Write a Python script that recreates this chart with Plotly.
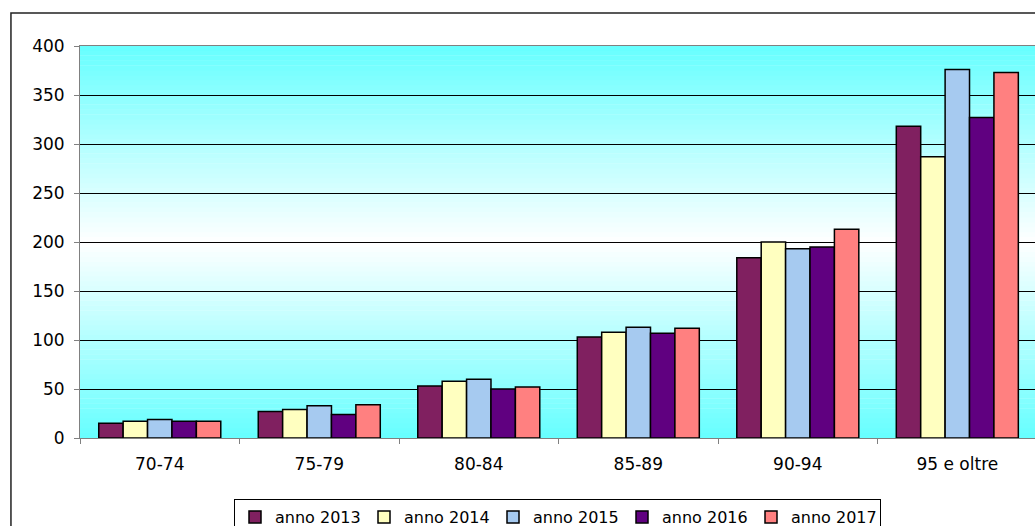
import plotly.graph_objects as go

# classi di eta' e valori
classi = ['70-74', '75-79', '80-84', '85-89', '90-94', '95 e oltre']

anno_2013 = [15, 27, 53, 103, 184, 318]
anno_2014 = [17, 29, 58, 108, 200, 287]
anno_2015 = [19, 33, 60, 113, 193, 376]
anno_2016 = [17, 24, 50, 107, 195, 327]
anno_2017 = [17, 34, 52, 112, 213, 373]

serie = [
    ('anno 2013', anno_2013, '#802060'),
    ('anno 2014', anno_2014, '#FFFFC0'),
    ('anno 2015', anno_2015, '#A6CAF0'),
    ('anno 2016', anno_2016, '#600080'),
    ('anno 2017', anno_2017, '#FF8080'),
]

fig = go.Figure()
for nome, valori, colore in serie:
    fig.add_trace(go.Bar(
        name=nome,
        x=classi,
        y=valori,
        marker=dict(color=colore, line=dict(color='black', width=1.5)),
    ))

# sfondo sfumato ciano -> bianco -> ciano
shapes = []
n = 80
for i in range(n):
    t = (i + 0.5) / n
    k = abs(t - 0.5) * 2  # 0 al centro, 1 ai bordi
    r = int(round(255 - (255 - 102) * k))
    shapes.append(dict(
        type='rect', xref='paper', yref='paper',
        x0=0, x1=1, y0=i / n, y1=(i + 1) / n + 0.001,
        fillcolor=f'rgb({r},255,255)', line=dict(width=0), layer='below'
    ))

# cornice esterna del grafico
shapes.append(dict(
    type='rect', xref='paper', yref='paper',
    x0=-0.0723, x1=1.2, y0=-0.5, y1=1.084,
    line=dict(color='#222222', width=1.5), fillcolor='rgba(0,0,0,0)', layer='above'
))

fig.update_layout(
    width=1035, height=526,
    margin=dict(l=80, r=0, t=46, b=88),
    paper_bgcolor='white',
    plot_bgcolor='white',
    barmode='group',
    bargap=0.235,
    bargroupgap=0,
    font=dict(family='DejaVu Sans', size=17, color='black'),
    shapes=shapes,
    showlegend=True,
    legend=dict(
        orientation='h',
        x=0.5, xanchor='center',
        yref='container', y=1 - 499 / 526, yanchor='top',
        bordercolor='black', borderwidth=1,
        bgcolor='white',
        itemwidth=30,
        entrywidth=84,
        font=dict(family='DejaVu Sans', size=16, color='black'),
        traceorder='normal',
    ),
    xaxis=dict(
        range=[-0.5, 5.487],
        showgrid=False,
        showline=True, linecolor='#808080', linewidth=1, mirror=True,
        ticks='outside', tickson='boundaries', ticklen=5, tickcolor='#808080',
        ticklabelstandoff=11,
    ),
    yaxis=dict(
        range=[0, 400], dtick=50,
        showgrid=True, gridcolor='black', gridwidth=1,
        zeroline=False,
        showline=True, linecolor='#808080', linewidth=1, mirror=True,
        ticks='outside', ticklen=5, tickcolor='#808080',
        ticklabelstandoff=6,
    ),
)

fig.write_html("out.html", config={'displayModeBar': False},
               post_script="document.body.style.margin='0';")
